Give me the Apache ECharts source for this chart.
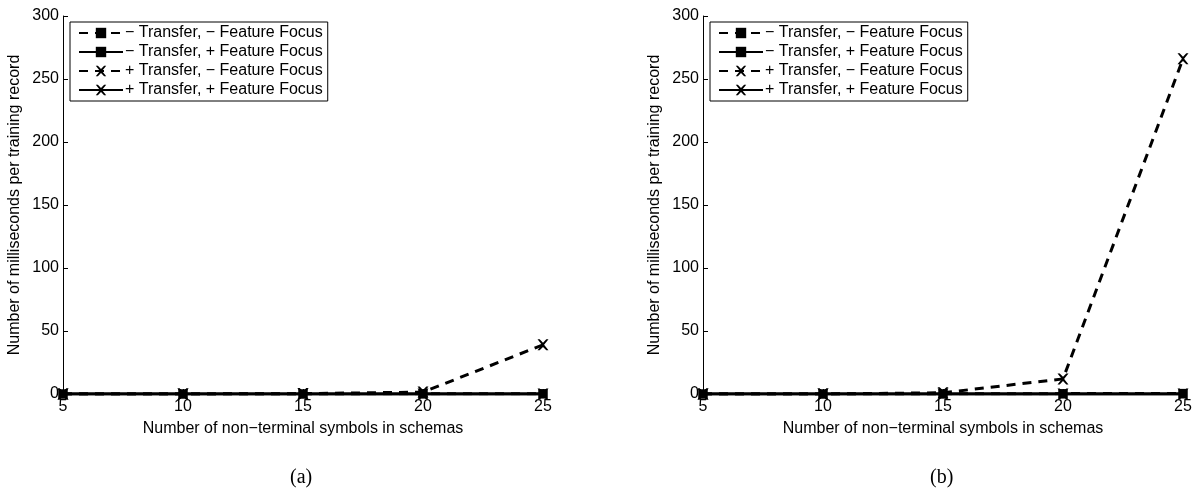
<!DOCTYPE html>
<html>
<head>
<meta charset="utf-8">
<script src="https://cdn.jsdelivr.net/npm/echarts@6/dist/echarts.min.js"></script>
<style>
  html, body { margin: 0; padding: 0; background: #fff; }
  #chart { width: 1200px; height: 494px; }
</style>
</head>
<body>
<div id="chart"></div>
<script>
// x categories (number of non-terminal symbols)
var symbols = [5, 10, 15, 20, 25];
var seriesNames = [
  '\u2212 Transfer, \u2212 Feature Focus',
  '\u2212 Transfer, + Feature Focus',
  '+ Transfer, \u2212 Feature Focus',
  '+ Transfer, + Feature Focus'
];
// panel (a)
var aNoTNoF = [0, 0, 0, 0.2, 0.3];
var aNoTF = [0, 0, 0, 0, 0];
var aTNoF = [0, 0, 0.3, 1.5, 39];
var aTF = [0, 0, 0, 0, 0];
// panel (b)
var bNoTNoF = [0, 0, 0.1, 0.3, 0.5];
var bNoTF = [0, 0, 0, 0, 0];
var bTNoF = [0, 0, 1, 12, 266];
var bTF = [0, 0, 0, 0, 0];

var crossPath = 'path://M0,0L2,0L5,3L8,0L10,0L6,5L10,10L8,10L5,7L2,10L0,10L4,5Z';
var font = 'Liberation Sans';

function pair(vals) {
  return vals.map(function (v, i) { return [symbols[i], v]; });
}

function makeSeries(idx, data, k) {
  var dashed = (k % 2 === 0);
  return {
    name: seriesNames[k],
    type: 'line',
    xAxisIndex: idx,
    yAxisIndex: idx,
    data: pair(data),
    symbol: k < 2 ? 'rect' : crossPath,
    symbolSize: k < 2 ? 9 : 11,
    showSymbol: true,
    itemStyle: { color: '#000' },
    lineStyle: { color: '#000', width: 3, type: dashed ? [9, 7] : 'solid' },
    z: 10 - k,
    animation: false
  };
}

function xAxis(idx) {
  return {
    type: 'value', gridIndex: idx, min: 5, max: 25, interval: 5,
    name: 'Number of non\u2212terminal symbols in schemas',
    nameLocation: 'middle', nameGap: 27,
    nameTextStyle: { color: '#000', fontSize: 16, fontFamily: font },
    axisLine: { lineStyle: { color: '#000', width: 1 } },
    axisTick: { inside: true, length: 5, lineStyle: { color: '#000' } },
    axisLabel: { color: '#000', fontSize: 16, fontFamily: font, margin: 5 },
    splitLine: { show: false }
  };
}

function yAxis(idx) {
  return {
    type: 'value', gridIndex: idx, min: 0, max: 300, interval: 50,
    name: 'Number of milliseconds per training record',
    nameLocation: 'middle', nameGap: 40,
    nameTextStyle: { color: '#000', fontSize: 16, fontFamily: font },
    axisLine: { show: true, lineStyle: { color: '#000', width: 1 } },
    axisTick: { show: true, inside: true, length: 5, lineStyle: { color: '#000' } },
    axisLabel: { color: '#000', fontSize: 16, fontFamily: font, margin: 4 },
    splitLine: { show: false }
  };
}

function legend(left) {
  return {
    left: left, top: 22, orient: 'vertical',
    data: seriesNames,
    itemWidth: 44, itemHeight: 13, itemGap: 3,
    padding: [3, 5, 3, 8],
    borderColor: '#000', borderWidth: 1, backgroundColor: '#fff',
    textStyle: { color: '#000', fontSize: 16, fontFamily: font, padding: [0, 0, 0, -3] },
    selectedMode: false
  };
}

var option = {
  backgroundColor: '#fff',
  animation: false,
  grid: [
    { left: 63, right: 657, top: 16, bottom: 100 },
    { left: 703, right: 17, top: 16, bottom: 100 }
  ],
  xAxis: [xAxis(0), xAxis(1)],
  yAxis: [yAxis(0), yAxis(1)],
  legend: [legend(70), legend(710)],
  graphic: [
    { type: 'text', left: 290, top: 468, style: { text: '(a)', font: '20px "Liberation Serif"', fill: '#000' } },
    { type: 'text', left: 930, top: 468, style: { text: '(b)', font: '20px "Liberation Serif"', fill: '#000' } }
  ],
  series: [
    makeSeries(0, aNoTNoF, 0), makeSeries(0, aNoTF, 1), makeSeries(0, aTNoF, 2), makeSeries(0, aTF, 3),
    makeSeries(1, bNoTNoF, 0), makeSeries(1, bNoTF, 1), makeSeries(1, bTNoF, 2), makeSeries(1, bTF, 3)
  ]
};

var chart = echarts.init(document.getElementById('chart'), null, { renderer: 'canvas' });
chart.setOption(option);
</script>
</body>
</html>
